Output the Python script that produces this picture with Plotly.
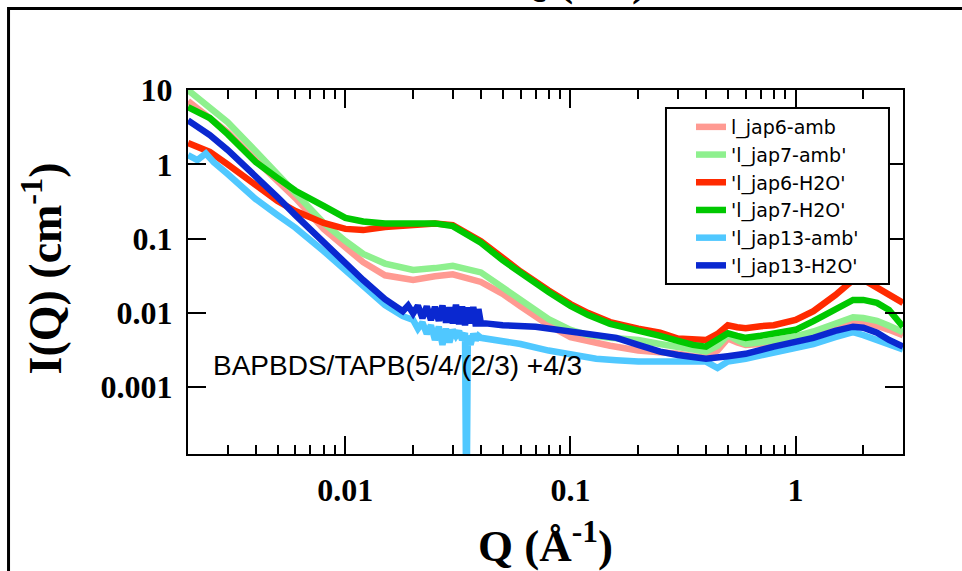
import plotly.graph_objects as go

# ---------------- data ----------------
q_grid = [0.002, 0.0025, 0.003, 0.004, 0.005, 0.006, 0.008, 0.01, 0.012, 0.015,
          0.02, 0.025, 0.03, 0.04, 0.05, 0.06, 0.08, 0.1, 0.12, 0.15,
          0.2, 0.25, 0.3, 0.35, 0.4, 0.45, 0.5, 0.55, 0.6, 0.7,
          0.8, 1.0, 1.2, 1.5, 1.8, 2.0, 2.3, 2.6, 3.0]

i_jap6_amb = [7.1, 4.1, 2.7, 1.14, 0.61, 0.35, 0.135, 0.077, 0.048, 0.032,
              0.0276, 0.031, 0.033, 0.026, 0.018, 0.0122, 0.0068, 0.0047, 0.0041, 0.0036,
              0.0031, 0.0030, 0.0028, 0.0026, 0.0025, 0.0031, 0.0045, 0.0040, 0.0037, 0.0038,
              0.0041, 0.0044, 0.0052, 0.0064, 0.0075, 0.0073, 0.0067, 0.0059, 0.0050]

i_jap7_amb = [10.0, 5.9, 3.7, 1.5, 0.74, 0.43, 0.163, 0.093, 0.062, 0.046,
              0.0377, 0.040, 0.043, 0.035, 0.022, 0.0149, 0.0082, 0.0059, 0.0050, 0.0046,
              0.0043, 0.0038, 0.0035, 0.0032, 0.0030, 0.0036, 0.0050, 0.0043, 0.0038, 0.0040,
              0.0043, 0.0048, 0.0056, 0.0073, 0.0087, 0.0085, 0.0078, 0.0067, 0.0055]

i_jap6_h2o = [1.93, 1.47, 1.0, 0.51, 0.32, 0.235, 0.162, 0.135, 0.13, 0.143,
              0.152, 0.16, 0.152, 0.092, 0.055, 0.036, 0.020, 0.0131, 0.0099, 0.0075,
              0.0061, 0.0054, 0.0045, 0.0043, 0.0043, 0.0052, 0.0068, 0.0064, 0.0062, 0.0066,
              0.0068, 0.0080, 0.0105, 0.0173, 0.0276, 0.028, 0.022, 0.0173, 0.0136]

i_jap7_h2o = [5.9, 4.2, 2.55, 1.07, 0.65, 0.44, 0.276, 0.19, 0.17, 0.16,
              0.16, 0.16, 0.147, 0.088, 0.051, 0.034, 0.019, 0.0124, 0.0093, 0.0071,
              0.0059, 0.0049, 0.0042, 0.0037, 0.0035, 0.0043, 0.0053, 0.0049, 0.0046, 0.0049,
              0.0052, 0.0059, 0.0077, 0.0112, 0.0149, 0.0149, 0.0136, 0.0109, 0.0065]

q_jap13_amb = [0.002, 0.0022, 0.0024, 0.0026, 0.003, 0.004, 0.005, 0.006, 0.008, 0.01,
               0.012, 0.015, 0.018, 0.02, 0.021, 0.022, 0.023, 0.024, 0.025, 0.026,
               0.027, 0.028, 0.029, 0.03, 0.031, 0.032, 0.033, 0.034, 0.0345, 0.035,
               0.036, 0.037, 0.038, 0.039, 0.04, 0.05, 0.06, 0.08, 0.1, 0.13,
               0.16, 0.2, 0.3, 0.4, 0.45, 0.5, 0.6, 0.8, 1.0, 1.2,
               1.5, 1.8, 2.0, 2.3, 2.6, 3.0]
i_jap13_amb = [1.33, 1.14, 1.4, 1.07, 0.74, 0.34, 0.207, 0.14, 0.068, 0.038,
               0.024, 0.0127, 0.009, 0.008, 0.0061, 0.0074, 0.0052, 0.0068, 0.0043, 0.0065,
               0.0037, 0.0061, 0.004, 0.0059, 0.0049, 0.0057, 0.0043, 0.0054, 0.00001, 0.0049,
               0.0037, 0.0052, 0.0043, 0.0049, 0.0046, 0.0041, 0.0038, 0.0031, 0.0027, 0.0024,
               0.0023, 0.0022, 0.0022, 0.0022, 0.0018, 0.0022, 0.0024, 0.0029, 0.0034, 0.0038,
               0.0047, 0.0055, 0.0050, 0.0043, 0.0037, 0.0032]

q_jap13_h2o = [0.002, 0.0025, 0.003, 0.004, 0.005, 0.006, 0.008, 0.01, 0.012, 0.015,
               0.017, 0.018, 0.019, 0.02, 0.021, 0.022, 0.023, 0.024, 0.025, 0.026,
               0.027, 0.028, 0.029, 0.03, 0.031, 0.032, 0.033, 0.034, 0.035, 0.036,
               0.037, 0.038, 0.039, 0.04, 0.042, 0.05, 0.07, 0.1, 0.13, 0.16,
               0.2, 0.25, 0.3, 0.4, 0.5, 0.6, 0.8, 1.0, 1.2, 1.5,
               1.8, 2.0, 2.3, 2.6, 3.0]
i_jap13_h2o = [3.9, 2.48, 1.56, 0.70, 0.36, 0.207, 0.088, 0.047, 0.0276, 0.0152,
               0.0118, 0.0105, 0.0125, 0.0098, 0.0125, 0.0085, 0.0122, 0.0080, 0.0120, 0.0078,
               0.0125, 0.0074, 0.0118, 0.0072, 0.0128, 0.0070, 0.0122, 0.0068, 0.0118, 0.0072,
               0.0120, 0.0066, 0.0112, 0.0072, 0.0072, 0.0068, 0.0065, 0.0057, 0.0052, 0.0046,
               0.0037, 0.0030, 0.0027, 0.0024, 0.0026, 0.0028, 0.0035, 0.0040, 0.0046, 0.0057,
               0.0065, 0.0063, 0.0054, 0.0043, 0.0035]

series_names = ["l_jap6-amb", "'l_jap7-amb'", "'l_jap6-H2O'", "'l_jap7-H2O'",
                "'l_jap13-amb'", "'l_jap13-H2O'"]
series_colors = ["#FF9A92", "#8EF08E", "#FF2A00", "#00C800", "#50C8FF", "#0A28D0"]

x_tick_vals = [0.01, 0.1, 1]
x_tick_text = ["0.01", "0.1", "1"]
x_minor_vals = [0.003, 0.004, 0.005, 0.006, 0.007, 0.008, 0.009,
                0.02, 0.03, 0.04, 0.05, 0.06, 0.07, 0.08, 0.09,
                0.2, 0.3, 0.4, 0.5, 0.6, 0.7, 0.8, 0.9, 2, 3]
y_tick_vals = [0.001, 0.01, 0.1, 1, 10]
y_tick_text = ["0.001", "0.01", "0.1", "1", "10"]

note_text = "BAPBDS/TAPB(5/4/(2/3) +4/3"

# ---------------- figure ----------------
xs = [q_grid, q_grid, q_grid, q_grid, q_jap13_amb, q_jap13_h2o]
ys = [i_jap6_amb, i_jap7_amb, i_jap6_h2o, i_jap7_h2o, i_jap13_amb, i_jap13_h2o]

fig = go.Figure()
for x, y, n, c in zip(xs, ys, series_names, series_colors):
    fig.add_trace(go.Scatter(x=x, y=y, name=n, mode="lines",
                             line=dict(color=c, width=6.5, shape="linear")))

serif = "Liberation Serif, Times New Roman, serif"
sans = "Liberation Sans, Arial, sans-serif"

fig.update_layout(
    width=962, height=571,
    margin=dict(l=188, r=59, t=90, b=117),
    paper_bgcolor="white", plot_bgcolor="white",
    showlegend=True,
    legend=dict(x=0.7035, y=0.9505, xanchor="left", yanchor="top",
                bgcolor="rgba(0,0,0,0)", borderwidth=0,
                font=dict(family="DejaVu Sans, Verdana, sans-serif", size=19, color="black"),
                tracegroupgap=0),
)

fig.update_xaxes(type="log", range=[-2.699, 0.4771],
                 showgrid=False, zeroline=False,
                 showline=True, linecolor="black", linewidth=2, mirror="allticks",
                 ticks="inside", ticklen=18, tickwidth=2, tickcolor="black",
                 tickvals=x_tick_vals, ticktext=x_tick_text,
                 tickfont=dict(family=serif, size=32, color="black", weight="bold"),
                 ticklabelstandoff=7,
                 minor=dict(ticks="inside", ticklen=9, tickwidth=2, tickcolor="black",
                            tickvals=x_minor_vals, showgrid=False))
fig.update_yaxes(type="log", range=[-3.902, 1.001],
                 showgrid=False, zeroline=False,
                 showline=True, linecolor="black", linewidth=2, mirror="allticks",
                 ticks="inside", ticklen=18, tickwidth=2, tickcolor="black",
                 tickvals=y_tick_vals, ticktext=y_tick_text,
                 tickfont=dict(family=serif, size=32, color="black", weight="bold"),
                 ticklabelstandoff=7)

# legend frame
fig.add_shape(type="rect", xref="paper", yref="paper",
              x0=0.6685, x1=0.9804, y0=0.467, y1=0.9505,
              line=dict(color="black", width=2), fillcolor="white", layer="above")
# outer frame lines (panel border)
fig.add_shape(type="line", xref="paper", yref="paper",
              x0=-0.2517, x1=1.09, y0=1.2239, y1=1.2239,
              line=dict(color="black", width=3), layer="above")
fig.add_shape(type="line", xref="paper", yref="paper",
              x0=-0.2510, x1=-0.2510, y0=1.2280, y1=-0.34,
              line=dict(color="black", width=3), layer="above")

fig.add_annotation(text=note_text, xref="paper", yref="paper",
                   x=0.0322, y=0.2445, xanchor="left", yanchor="middle",
                   showarrow=False, font=dict(family=sans, size=28, color="black"))
fig.add_annotation(text="Q (Å<sup>-1</sup>)", xref="paper", yref="paper",
                   x=0.5, y=-0.2418, xanchor="center", yanchor="middle",
                   showarrow=False,
                   font=dict(family=serif, size=45, color="black", weight="bold"))
fig.add_annotation(text="I(Q) (cm<sup>-1</sup>)", xref="paper", yref="paper",
                   x=-0.204, y=0.51, xanchor="center", yanchor="middle",
                   textangle=-90, showarrow=False,
                   font=dict(family=serif, size=46, color="black", weight="bold"))
# title of the panel above, cut off by the page edge
fig.add_annotation(text="Q (Å<sup>-1</sup>)", xref="paper", yref="paper",
                   x=0.548, y=1.2275, xanchor="center", yanchor="bottom",
                   showarrow=False,
                   font=dict(family=serif, size=45, color="black", weight="bold"))

# the page body has an 8px default margin; remove it so the figure sits at (0,0)
fig.write_html("out.html",
               config={"displayModeBar": False},
               post_script="document.body.style.margin='0';document.body.style.overflow='hidden';")
